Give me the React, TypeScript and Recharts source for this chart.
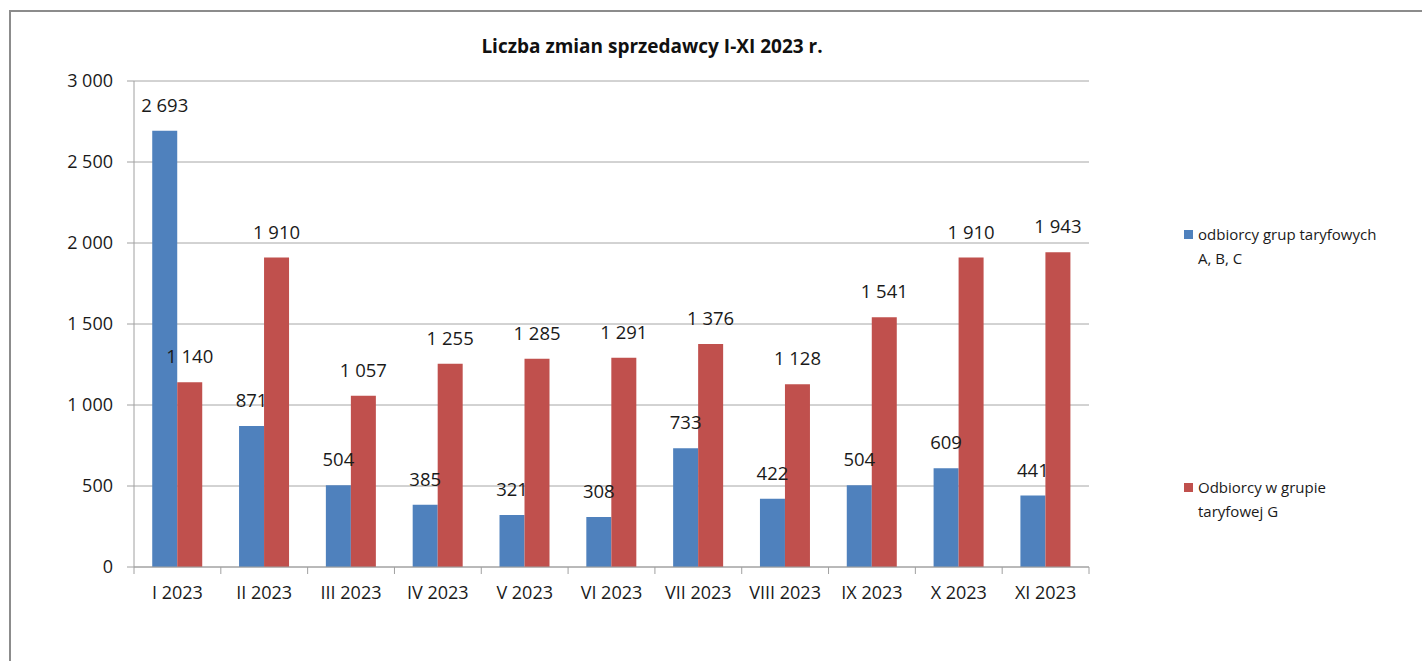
import { BarChart, Bar, XAxis, YAxis, CartesianGrid, LabelList } from "recharts";

const categories = [
  "I 2023",
  "II 2023",
  "III 2023",
  "IV 2023",
  "V 2023",
  "VI 2023",
  "VII 2023",
  "VIII 2023",
  "IX 2023",
  "X 2023",
  "XI 2023",
];

const groupABC = [2693, 871, 504, 385, 321, 308, 733, 422, 504, 609, 441];
const groupG = [1140, 1910, 1057, 1255, 1285, 1291, 1376, 1128, 1541, 1910, 1943];

const yTicks = [0, 500, 1000, 1500, 2000, 2500, 3000];

const seriesNames = ["odbiorcy grup taryfowych A, B, C", "Odbiorcy w grupie taryfowej G"];

const data = categories.map((name, i) => ({
  name,
  abc: groupABC[i],
  g: groupG[i],
}));

const COLORS = ["#4F81BD", "#C0504D"];
const FONT = "'Open Sans', sans-serif";

const W = 1422;
const H = 661;
const LEFT = 134;
const RIGHT = 1089;
const TOP = 81;
const BOTTOM = 567;
const BAND = (RIGHT - LEFT) / categories.length;

// thousands separated by a non-breaking space so labels don't wrap
const fmt = (v: any) => String(v).replace(/\B(?=(\d{3})+(?!\d))/g, "\u00A0");

function XTick(props: any) {
  const { x, y, payload, index } = props;
  const left = x - BAND / 2;
  return (
    <g>
      <line x1={left} y1={BOTTOM} x2={left} y2={BOTTOM + 7} stroke="#a0a0a0" />
      {index === categories.length - 1 && (
        <line x1={left + BAND} y1={BOTTOM} x2={left + BAND} y2={BOTTOM + 7} stroke="#a0a0a0" />
      )}
      <text x={x} y={y + 24} textAnchor="middle" fontSize={18} fill="#1a1a1a" fontFamily={FONT}>
        {payload.value}
      </text>
    </g>
  );
}

export default function App() {
  return (
    <div style={{ position: "absolute", left: 0, top: 0, width: W, height: H, background: "#fff" }}>
      <div
        style={{
          position: "absolute",
          left: 9,
          top: 10,
          width: W,
          height: H,
          borderLeft: "2px solid #8c8c8c",
          borderTop: "2px solid #8c8c8c",
        }}
      />
      <div
        style={{
          position: "absolute",
          left: 0,
          width: 1304,
          top: 33,
          textAlign: "center",
          fontFamily: FONT,
          fontWeight: 700,
          fontSize: 19,
          color: "#111",
        }}
      >
        Liczba zmian sprzedawcy I-XI 2023 r.
      </div>
      <div style={{ position: "absolute", left: 0, top: 0 }}>
        <BarChart
          width={W}
          height={H}
          data={data}
          margin={{ top: TOP, right: W - RIGHT, bottom: H - BOTTOM - 40, left: 0 }}
          barCategoryGap="21%"
          barGap={0}
        >
          <CartesianGrid vertical={false} stroke="#a6a6a6" />
          <XAxis
            dataKey="name"
            stroke="#a0a0a0"
            tickLine={false}
            height={40}
            tick={<XTick />}
            interval={0}
          />
          <YAxis
            width={LEFT}
            domain={[0, 3000]}
            ticks={yTicks}
            tickFormatter={fmt}
            stroke="#a0a0a0"
            tickSize={7}
            tickMargin={14}
            tick={{ fontSize: 18, fill: "#1a1a1a", fontFamily: FONT }}
          />
          <Bar dataKey="abc" fill={COLORS[0]} isAnimationActive={false}>
            <LabelList
              dataKey="abc"
              position="top"
              offset={19}
              formatter={fmt}
              style={{ fontSize: 18.5, fill: "#1a1a1a", fontFamily: FONT }}
            />
          </Bar>
          <Bar dataKey="g" fill={COLORS[1]} isAnimationActive={false}>
            <LabelList
              dataKey="g"
              position="top"
              offset={19}
              formatter={fmt}
              style={{ fontSize: 18.5, fill: "#1a1a1a", fontFamily: FONT }}
            />
          </Bar>
        </BarChart>
      </div>
      {/* Legend */}
      {seriesNames.map((name, i) => (
        <div
          key={`legend-${i}`}
          style={{
            position: "absolute",
            left: 1184,
            top: i === 0 ? 222 : 475,
            width: 210,
            display: "flex",
            alignItems: "flex-start",
            fontFamily: FONT,
            fontSize: 15,
            lineHeight: "24px",
            color: "#1a1a1a",
          }}
        >
          <span
            style={{
              display: "inline-block",
              width: 9,
              height: 9,
              marginTop: 8,
              marginRight: 5,
              flexShrink: 0,
              backgroundColor: COLORS[i],
            }}
          ></span>
          <span>{i === 0 ? <>odbiorcy grup taryfowych<br />A, B, C</> : <>Odbiorcy w grupie<br />taryfowej G</>}</span>
        </div>
      ))}
    </div>
  );
}
